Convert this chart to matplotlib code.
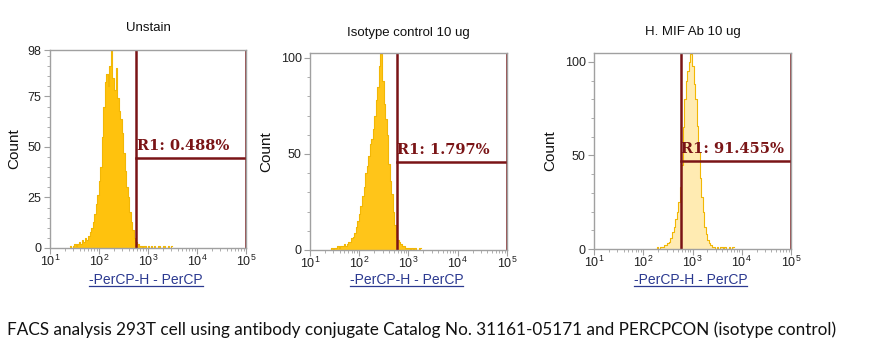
import numpy as np
import matplotlib
matplotlib.use("Agg")
import matplotlib.pyplot as plt
from matplotlib.ticker import FixedLocator, NullFormatter, LogLocator
from matplotlib.lines import Line2D

plt.rcParams['font.family'] = ['Liberation Sans', 'DejaVu Sans']
plt.rcParams['mathtext.fontset'] = 'custom'
plt.rcParams['mathtext.rm'] = 'Liberation Sans'

# channel grid: 32 channels per decade, log10 of first channel for each panel
step = 1 / 32

titles = ['Unstain', 'Isotype control 10 ug', 'H. MIF Ab 10 ug']
gate_texts = ['R1: 0.488%', 'R1: 1.797%', 'R1: 91.455%']

unstain_start = 1.40
unstain_counts = [1, 0, 1, 2, 1, 2, 3, 2, 4, 3, 5, 4, 6, 8, 10, 13, 17, 22, 26, 33,
                  40, 55, 70, 82, 86, 80, 90, 98, 84, 78, 89, 74, 68, 64, 57, 47,
                  38, 30, 25, 18, 13, 9, 5, 3, 2, 1, 1, 0, 1, 1, 0, 1, 0, 1, 0, 1,
                  0, 0, 1, 0, 0, 1, 0, 0, 1, 0, 1]

isotype_start = 1.40
isotype_counts = [0, 1, 0, 1, 1, 2, 1, 2, 2, 3, 2, 3, 4, 4, 6, 7, 9, 12, 15, 19,
                  23, 28, 33, 40, 44, 49, 55, 58, 63, 70, 78, 85, 96, 102, 88, 76,
                  68, 60, 45, 36, 29, 20, 13, 7, 5, 4, 3, 2, 2, 1, 1, 1, 0, 1, 0,
                  1, 0, 0, 1]

mif_start = 2.24
mif_counts = [0, 1, 0, 1, 1, 1, 2, 2, 3, 4, 6, 9, 12, 16, 20, 25, 33, 45, 65, 80,
              90, 95, 100, 104, 98, 88, 80, 66, 52, 38, 28, 20, 12, 8, 5, 3, 2,
              1, 1, 0, 1, 0, 1, 1, 0, 1, 0, 0, 1, 0, 1]

# gate R1: [low, high] channel and marker height in counts
gate_low = [575, 575, 575]
gate_high = 1e5
gate_heights = [44.4, 46, 47.2]

y_max = [98, 102.6, 104.8]
y_major = [[0, 25, 50, 75, 98], [0, 50, 100], [0, 50, 100]]
y_minor_step = [5, 10, 10]

starts = [unstain_start, isotype_start, mif_start]
counts = [unstain_counts, isotype_counts, mif_counts]

W, H = 870, 364
fig = plt.figure(figsize=(W / 100, H / 100), dpi=100)

# axes boxes in pixels: left, top, right, bottom
boxes = [(50, 50, 246, 248), (310, 53, 507, 250), (594, 53, 791, 249)]
title_y = [28, 33, 32]
fill_alpha = [0.95, 0.9, 0.3]

hist_color = '#FFBF00'
gate_color = '#7A1416'
axis_grey = '#A0A0A0'

xlabel_texts = []
for i in range(3):
    l, t, r, b = boxes[i]
    ax = fig.add_axes([l / W, 1 - b / H, (r - l) / W, (b - t) / H])
    c = np.array(counts[i], dtype=float)
    edges = 10 ** (starts[i] + step * np.arange(len(c) + 1))
    xs = np.repeat(edges, 2)[1:-1]
    ys = np.repeat(c, 2)
    ax.fill_between(xs, 0, ys, color=hist_color, alpha=fill_alpha[i], lw=0)
    ax.plot(xs, ys, color='#F2B705', lw=0.8)

    # gate marker
    gh = gate_heights[i]
    ax.plot([gate_low[i], gate_low[i]], [0, y_max[i]], color=gate_color, lw=1.8)
    ax.plot([gate_high, gate_high], [0, y_max[i]], color=gate_color, lw=1.8)
    ax.plot([gate_low[i], gate_high], [gh, gh], color=gate_color, lw=1.8)
    ax.text(gate_low[i] * 1.03, gh + 2.5, gate_texts[i], color=gate_color,
            fontsize=10.5, fontweight='bold', family='DejaVu Serif',
            va='bottom', ha='left')

    ax.set_xscale('log')
    ax.set_xlim(10, 1e5)
    ax.set_ylim(0, y_max[i])
    ax.xaxis.set_major_locator(FixedLocator([10, 100, 1000, 1e4, 1e5]))
    ax.set_xticklabels([r'$10^{%d}$' % k for k in range(1, 6)])
    ax.xaxis.set_minor_locator(LogLocator(base=10, subs=np.arange(2, 10), numticks=20))
    ax.xaxis.set_minor_formatter(NullFormatter())
    ax.yaxis.set_major_locator(FixedLocator(y_major[i]))
    ax.yaxis.set_minor_locator(FixedLocator(np.arange(0, y_max[i], y_minor_step[i])))

    for s in ax.spines.values():
        s.set_color(axis_grey)
        s.set_linewidth(1)
    ax.tick_params(axis='both', which='both', colors=axis_grey, labelcolor='#222222',
                   direction='out', labelsize=9)
    ax.tick_params(axis='y', which='major', length=4, pad=2)
    ax.tick_params(axis='x', which='major', length=4, pad=0)
    ax.tick_params(axis='both', which='minor', length=2.5)

    ax.set_ylabel('Count', fontsize=11, labelpad=5, color='#111111')

    cx = (l + r) / 2
    fig.text(cx / W, 1 - title_y[i] / H, titles[i], ha='center', va='center',
             fontsize=9.5, color='#111111')
    xt = fig.text((cx - 2) / W, 1 - 280 / H, '-PerCP-H - PerCP', ha='center',
                  va='center', fontsize=10, color='#2B3990')
    xlabel_texts.append(xt)

# underline the axis titles
fig.canvas.draw()
renderer = fig.canvas.get_renderer()
for xt in xlabel_texts:
    bb = xt.get_window_extent(renderer)
    yline = (bb.y0 + 1) / H
    fig.add_artist(Line2D([bb.x0 / W, bb.x1 / W], [yline, yline],
                          color='#2B3990', lw=0.9, transform=fig.transFigure))

fig.text(7 / W, 1 - 330 / H,
         'FACS analysis 293T cell using antibody conjugate Catalog No. 31161-05171 '
         'and PERCPCON (isotype control)',
         ha='left', va='center', fontsize=12.3, family='Lato', color='#111111')

fig.savefig('out.png', dpi=100, facecolor='white')
